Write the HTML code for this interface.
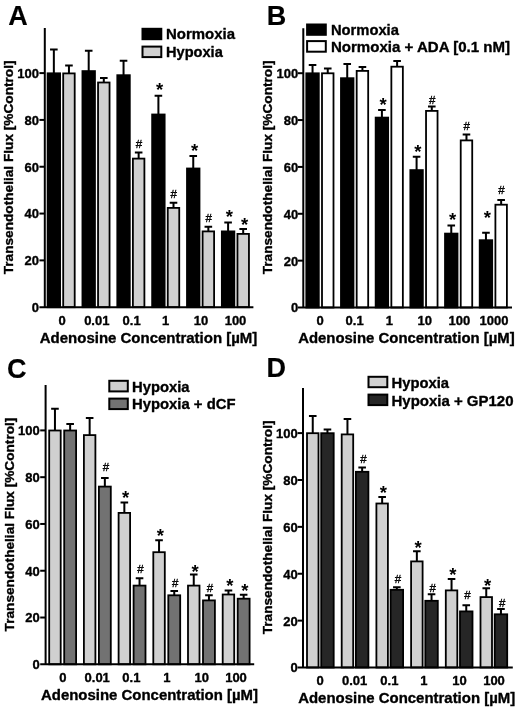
<!DOCTYPE html>
<html><head><meta charset="utf-8"><title>Figure</title>
<style>
html,body{margin:0;padding:0;background:#fff;}
svg{display:block;font-family:"Liberation Sans",sans-serif;fill:#000;}
text[font-weight=bold]{stroke:#000;stroke-width:0.35px;stroke-linejoin:round;}
</style></head>
<body>
<svg width="520" height="707" viewBox="0 0 520 707">
<rect x="0" y="0" width="520" height="707" fill="#fff"/>
<path d="M53.85 73.40V49.50M50.05 49.50H57.65" stroke="#000" stroke-width="2" fill="none"/>
<rect x="47.60" y="73.30" width="12.50" height="233.90" fill="#000" stroke="#000" stroke-width="1.8"/>
<path d="M68.95 73.50V65.50M65.15 65.50H72.75" stroke="#000" stroke-width="2" fill="none"/>
<rect x="63.20" y="73.40" width="11.50" height="233.80" fill="#d0d0d0" stroke="#000" stroke-width="1.8"/>
<path d="M88.70 71.20V50.75M84.90 50.75H92.50" stroke="#000" stroke-width="2" fill="none"/>
<rect x="82.45" y="71.10" width="12.50" height="236.10" fill="#000" stroke="#000" stroke-width="1.8"/>
<path d="M103.80 82.60V78.00M100.00 78.00H107.60" stroke="#000" stroke-width="2" fill="none"/>
<rect x="98.05" y="82.50" width="11.50" height="224.70" fill="#d0d0d0" stroke="#000" stroke-width="1.8"/>
<path d="M123.55 75.30V60.70M119.75 60.70H127.35" stroke="#000" stroke-width="2" fill="none"/>
<rect x="117.30" y="75.20" width="12.50" height="232.00" fill="#000" stroke="#000" stroke-width="1.8"/>
<path d="M138.65 158.70V152.50M134.85 152.50H142.45" stroke="#000" stroke-width="2" fill="none"/>
<rect x="132.90" y="158.60" width="11.50" height="148.60" fill="#d0d0d0" stroke="#000" stroke-width="1.8"/>
<text x="138.95" y="148.00" text-anchor="middle" font-size="11.5" stroke="#000" stroke-width="0.35">#</text>
<path d="M158.40 114.60V95.70M154.60 95.70H162.20" stroke="#000" stroke-width="2" fill="none"/>
<rect x="152.15" y="114.50" width="12.50" height="192.70" fill="#000" stroke="#000" stroke-width="1.8"/>
<text x="159.70" y="95.80" text-anchor="middle" font-size="18.5" font-weight="bold" style="stroke-width:0">*</text>
<path d="M173.50 208.00V202.80M169.70 202.80H177.30" stroke="#000" stroke-width="2" fill="none"/>
<rect x="167.75" y="207.90" width="11.50" height="99.30" fill="#d0d0d0" stroke="#000" stroke-width="1.8"/>
<text x="173.80" y="197.60" text-anchor="middle" font-size="11.5" stroke="#000" stroke-width="0.35">#</text>
<path d="M193.25 168.60V156.00M189.45 156.00H197.05" stroke="#000" stroke-width="2" fill="none"/>
<rect x="187.00" y="168.50" width="12.50" height="138.70" fill="#000" stroke="#000" stroke-width="1.8"/>
<text x="194.55" y="157.30" text-anchor="middle" font-size="18.5" font-weight="bold" style="stroke-width:0">*</text>
<path d="M208.35 231.50V226.70M204.55 226.70H212.15" stroke="#000" stroke-width="2" fill="none"/>
<rect x="202.60" y="231.40" width="11.50" height="75.80" fill="#d0d0d0" stroke="#000" stroke-width="1.8"/>
<text x="208.65" y="221.70" text-anchor="middle" font-size="11.5" stroke="#000" stroke-width="0.35">#</text>
<path d="M228.10 231.50V222.40M224.30 222.40H231.90" stroke="#000" stroke-width="2" fill="none"/>
<rect x="221.85" y="231.40" width="12.50" height="75.80" fill="#000" stroke="#000" stroke-width="1.8"/>
<text x="229.40" y="223.00" text-anchor="middle" font-size="18.5" font-weight="bold" style="stroke-width:0">*</text>
<path d="M243.20 234.00V229.00M239.40 229.00H247.00" stroke="#000" stroke-width="2" fill="none"/>
<rect x="237.45" y="233.90" width="11.50" height="73.30" fill="#d0d0d0" stroke="#000" stroke-width="1.8"/>
<text x="244.50" y="230.80" text-anchor="middle" font-size="18.5" font-weight="bold" style="stroke-width:0">*</text>
<path d="M44.80 28.00V308.20M39.40 307.20H253.40" stroke="#000" stroke-width="2" fill="none"/>
<path d="M39.40 260.38H44.80" stroke="#000" stroke-width="2"/>
<path d="M39.40 213.56H44.80" stroke="#000" stroke-width="2"/>
<path d="M39.40 166.74H44.80" stroke="#000" stroke-width="2"/>
<path d="M39.40 119.92H44.80" stroke="#000" stroke-width="2"/>
<path d="M39.40 73.10H44.80" stroke="#000" stroke-width="2"/>
<text transform="translate(39.00 312.10) scale(1 1.0)" text-anchor="end" font-size="13" font-weight="bold">0</text>
<text transform="translate(39.00 265.28) scale(1 1.0)" text-anchor="end" font-size="13" font-weight="bold">20</text>
<text transform="translate(39.00 218.46) scale(1 1.0)" text-anchor="end" font-size="13" font-weight="bold">40</text>
<text transform="translate(39.00 171.64) scale(1 1.0)" text-anchor="end" font-size="13" font-weight="bold">60</text>
<text transform="translate(39.00 124.82) scale(1 1.0)" text-anchor="end" font-size="13" font-weight="bold">80</text>
<text transform="translate(39.00 78.00) scale(1 1.0)" text-anchor="end" font-size="13" font-weight="bold">100</text>
<text transform="translate(62.00 324.80) scale(1 1.0)" text-anchor="middle" font-size="13" font-weight="bold">0</text>
<text transform="translate(96.80 324.80) scale(1 1.0)" text-anchor="middle" font-size="13" font-weight="bold">0.01</text>
<text transform="translate(131.60 324.80) scale(1 1.0)" text-anchor="middle" font-size="13" font-weight="bold">0.1</text>
<text transform="translate(165.70 324.80) scale(1 1.0)" text-anchor="middle" font-size="13" font-weight="bold">1</text>
<text transform="translate(200.90 324.80) scale(1 1.0)" text-anchor="middle" font-size="13" font-weight="bold">10</text>
<text transform="translate(235.50 324.80) scale(1 1.0)" text-anchor="middle" font-size="13" font-weight="bold">100</text>
<text transform="translate(39.80 342.50) scale(1 1.0)" font-size="15" font-weight="bold" textLength="217.5" lengthAdjust="spacingAndGlyphs">Adenosine Concentration [µM]</text>
<text transform="translate(13.20 274.30) rotate(-90) scale(1 1.0)" font-size="13.4" font-weight="bold" textLength="213.8" lengthAdjust="spacingAndGlyphs">Transendothelial Flux [%Control]</text>
<text transform="translate(8.30 24.80) scale(1 1.0)" font-size="27" font-weight="bold" style="stroke-width:0.15px">A</text>
<rect x="142.50" y="28.80" width="18.80" height="10.40" fill="#000" stroke="#000" stroke-width="2"/>
<text transform="translate(166.00 39.25) scale(1 1.0)" font-size="15" font-weight="bold" textLength="69" lengthAdjust="spacingAndGlyphs">Normoxia</text>
<rect x="142.50" y="46.60" width="18.80" height="10.50" fill="#d0d0d0" stroke="#000" stroke-width="2"/>
<text transform="translate(166.00 57.45) scale(1 1.0)" font-size="15" font-weight="bold" textLength="56.8" lengthAdjust="spacingAndGlyphs">Hypoxia</text>
<path d="M312.55 73.40V65.00M308.75 65.00H316.35" stroke="#000" stroke-width="2" fill="none"/>
<rect x="306.30" y="73.30" width="12.50" height="234.20" fill="#000" stroke="#000" stroke-width="1.8"/>
<path d="M327.75 73.40V68.60M323.95 68.60H331.55" stroke="#000" stroke-width="2" fill="none"/>
<rect x="322.00" y="73.30" width="11.50" height="234.20" fill="#fff" stroke="#000" stroke-width="1.8"/>
<path d="M347.23 78.30V64.00M343.43 64.00H351.03" stroke="#000" stroke-width="2" fill="none"/>
<rect x="340.98" y="78.20" width="12.50" height="229.30" fill="#000" stroke="#000" stroke-width="1.8"/>
<path d="M362.43 71.00V67.00M358.63 67.00H366.23" stroke="#000" stroke-width="2" fill="none"/>
<rect x="356.68" y="70.90" width="11.50" height="236.60" fill="#fff" stroke="#000" stroke-width="1.8"/>
<path d="M381.91 117.70V110.00M378.11 110.00H385.71" stroke="#000" stroke-width="2" fill="none"/>
<rect x="375.66" y="117.60" width="12.50" height="189.90" fill="#000" stroke="#000" stroke-width="1.8"/>
<text x="383.21" y="110.80" text-anchor="middle" font-size="18.5" font-weight="bold" style="stroke-width:0">*</text>
<path d="M397.11 66.80V61.00M393.31 61.00H400.91" stroke="#000" stroke-width="2" fill="none"/>
<rect x="391.36" y="66.70" width="11.50" height="240.80" fill="#fff" stroke="#000" stroke-width="1.8"/>
<path d="M416.59 170.20V156.80M412.79 156.80H420.39" stroke="#000" stroke-width="2" fill="none"/>
<rect x="410.34" y="170.10" width="12.50" height="137.40" fill="#000" stroke="#000" stroke-width="1.8"/>
<text x="417.89" y="158.30" text-anchor="middle" font-size="18.5" font-weight="bold" style="stroke-width:0">*</text>
<path d="M431.79 111.00V106.50M427.99 106.50H435.59" stroke="#000" stroke-width="2" fill="none"/>
<rect x="426.04" y="110.90" width="11.50" height="196.60" fill="#fff" stroke="#000" stroke-width="1.8"/>
<text x="432.09" y="104.10" text-anchor="middle" font-size="11.5" stroke="#000" stroke-width="0.35">#</text>
<path d="M451.27 233.70V225.50M447.47 225.50H455.07" stroke="#000" stroke-width="2" fill="none"/>
<rect x="445.02" y="233.60" width="12.50" height="73.90" fill="#000" stroke="#000" stroke-width="1.8"/>
<text x="452.57" y="225.50" text-anchor="middle" font-size="18.5" font-weight="bold" style="stroke-width:0">*</text>
<path d="M466.47 140.50V134.60M462.67 134.60H470.27" stroke="#000" stroke-width="2" fill="none"/>
<rect x="460.72" y="140.40" width="11.50" height="167.10" fill="#fff" stroke="#000" stroke-width="1.8"/>
<text x="466.77" y="129.70" text-anchor="middle" font-size="11.5" stroke="#000" stroke-width="0.35">#</text>
<path d="M485.95 240.30V232.70M482.15 232.70H489.75" stroke="#000" stroke-width="2" fill="none"/>
<rect x="479.70" y="240.20" width="12.50" height="67.30" fill="#000" stroke="#000" stroke-width="1.8"/>
<text x="487.25" y="224.10" text-anchor="middle" font-size="18.5" font-weight="bold" style="stroke-width:0">*</text>
<path d="M501.15 204.80V200.00M497.35 200.00H504.95" stroke="#000" stroke-width="2" fill="none"/>
<rect x="495.40" y="204.70" width="11.50" height="102.80" fill="#fff" stroke="#000" stroke-width="1.8"/>
<text x="501.45" y="193.80" text-anchor="middle" font-size="11.5" stroke="#000" stroke-width="0.35">#</text>
<path d="M303.30 28.30V308.50M297.90 307.50H512.00" stroke="#000" stroke-width="2" fill="none"/>
<path d="M297.90 260.64H303.30" stroke="#000" stroke-width="2"/>
<path d="M297.90 213.78H303.30" stroke="#000" stroke-width="2"/>
<path d="M297.90 166.92H303.30" stroke="#000" stroke-width="2"/>
<path d="M297.90 120.06H303.30" stroke="#000" stroke-width="2"/>
<path d="M297.90 73.20H303.30" stroke="#000" stroke-width="2"/>
<text transform="translate(298.30 312.40) scale(1 1.0)" text-anchor="end" font-size="13" font-weight="bold">0</text>
<text transform="translate(298.30 265.54) scale(1 1.0)" text-anchor="end" font-size="13" font-weight="bold">20</text>
<text transform="translate(298.30 218.68) scale(1 1.0)" text-anchor="end" font-size="13" font-weight="bold">40</text>
<text transform="translate(298.30 171.82) scale(1 1.0)" text-anchor="end" font-size="13" font-weight="bold">60</text>
<text transform="translate(298.30 124.96) scale(1 1.0)" text-anchor="end" font-size="13" font-weight="bold">80</text>
<text transform="translate(298.30 78.10) scale(1 1.0)" text-anchor="end" font-size="13" font-weight="bold">100</text>
<text transform="translate(320.00 325.10) scale(1 1.0)" text-anchor="middle" font-size="13" font-weight="bold">0</text>
<text transform="translate(354.60 325.10) scale(1 1.0)" text-anchor="middle" font-size="13" font-weight="bold">0.1</text>
<text transform="translate(389.30 325.10) scale(1 1.0)" text-anchor="middle" font-size="13" font-weight="bold">1</text>
<text transform="translate(424.80 325.10) scale(1 1.0)" text-anchor="middle" font-size="13" font-weight="bold">10</text>
<text transform="translate(459.40 325.10) scale(1 1.0)" text-anchor="middle" font-size="13" font-weight="bold">100</text>
<text transform="translate(494.00 325.10) scale(1 1.0)" text-anchor="middle" font-size="13" font-weight="bold">1000</text>
<text transform="translate(298.20 342.80) scale(1 1.0)" font-size="15" font-weight="bold" textLength="216.5" lengthAdjust="spacingAndGlyphs">Adenosine Concentration [µM]</text>
<text transform="translate(272.20 274.30) rotate(-90) scale(1 1.0)" font-size="13.4" font-weight="bold" textLength="213.8" lengthAdjust="spacingAndGlyphs">Transendothelial Flux [%Control]</text>
<text transform="translate(266.80 24.50) scale(1 1.0)" font-size="27" font-weight="bold" style="stroke-width:0.15px">B</text>
<rect x="307.10" y="24.50" width="18.70" height="10.30" fill="#000" stroke="#000" stroke-width="2"/>
<text transform="translate(330.90 35.05) scale(1 1.0)" font-size="15" font-weight="bold" textLength="68" lengthAdjust="spacingAndGlyphs">Normoxia</text>
<rect x="307.10" y="41.10" width="18.70" height="10.60" fill="#fff" stroke="#000" stroke-width="2"/>
<text transform="translate(330.90 51.65) scale(1 1.0)" font-size="15" font-weight="bold" textLength="179.2" lengthAdjust="spacingAndGlyphs">Normoxia + ADA [0.1 nM]</text>
<path d="M54.95 430.60V408.80M51.15 408.80H58.75" stroke="#000" stroke-width="2" fill="none"/>
<rect x="49.20" y="430.50" width="11.50" height="233.80" fill="#d0d0d0" stroke="#000" stroke-width="1.8"/>
<path d="M70.15 430.60V424.00M66.35 424.00H73.95" stroke="#000" stroke-width="2" fill="none"/>
<rect x="64.20" y="430.50" width="11.90" height="233.80" fill="#727272" stroke="#000" stroke-width="1.8"/>
<path d="M89.65 435.20V418.00M85.85 418.00H93.45" stroke="#000" stroke-width="2" fill="none"/>
<rect x="83.90" y="435.10" width="11.50" height="229.20" fill="#d0d0d0" stroke="#000" stroke-width="1.8"/>
<path d="M104.85 486.70V478.00M101.05 478.00H108.65" stroke="#000" stroke-width="2" fill="none"/>
<rect x="98.90" y="486.60" width="11.90" height="177.70" fill="#727272" stroke="#000" stroke-width="1.8"/>
<text x="105.85" y="470.50" text-anchor="middle" font-size="11.5" stroke="#000" stroke-width="0.35">#</text>
<path d="M124.35 513.00V502.60M120.55 502.60H128.15" stroke="#000" stroke-width="2" fill="none"/>
<rect x="118.60" y="512.90" width="11.50" height="151.40" fill="#d0d0d0" stroke="#000" stroke-width="1.8"/>
<text x="125.65" y="504.30" text-anchor="middle" font-size="18.5" font-weight="bold" style="stroke-width:0">*</text>
<path d="M139.55 585.70V578.30M135.75 578.30H143.35" stroke="#000" stroke-width="2" fill="none"/>
<rect x="133.60" y="585.60" width="11.90" height="78.70" fill="#727272" stroke="#000" stroke-width="1.8"/>
<text x="140.55" y="573.10" text-anchor="middle" font-size="11.5" stroke="#000" stroke-width="0.35">#</text>
<path d="M159.05 552.30V540.30M155.25 540.30H162.85" stroke="#000" stroke-width="2" fill="none"/>
<rect x="153.30" y="552.20" width="11.50" height="112.10" fill="#d0d0d0" stroke="#000" stroke-width="1.8"/>
<text x="160.35" y="541.50" text-anchor="middle" font-size="18.5" font-weight="bold" style="stroke-width:0">*</text>
<path d="M174.25 595.40V591.00M170.45 591.00H178.05" stroke="#000" stroke-width="2" fill="none"/>
<rect x="168.30" y="595.30" width="11.90" height="69.00" fill="#727272" stroke="#000" stroke-width="1.8"/>
<text x="175.25" y="587.10" text-anchor="middle" font-size="11.5" stroke="#000" stroke-width="0.35">#</text>
<path d="M193.75 585.70V574.50M189.95 574.50H197.55" stroke="#000" stroke-width="2" fill="none"/>
<rect x="188.00" y="585.60" width="11.50" height="78.70" fill="#d0d0d0" stroke="#000" stroke-width="1.8"/>
<text x="195.05" y="577.50" text-anchor="middle" font-size="18.5" font-weight="bold" style="stroke-width:0">*</text>
<path d="M208.95 600.50V595.20M205.15 595.20H212.75" stroke="#000" stroke-width="2" fill="none"/>
<rect x="203.00" y="600.40" width="11.90" height="63.90" fill="#727272" stroke="#000" stroke-width="1.8"/>
<text x="209.95" y="592.10" text-anchor="middle" font-size="11.5" stroke="#000" stroke-width="0.35">#</text>
<path d="M228.45 594.60V590.60M224.65 590.60H232.25" stroke="#000" stroke-width="2" fill="none"/>
<rect x="222.70" y="594.50" width="11.50" height="69.80" fill="#d0d0d0" stroke="#000" stroke-width="1.8"/>
<text x="229.75" y="592.30" text-anchor="middle" font-size="18.5" font-weight="bold" style="stroke-width:0">*</text>
<path d="M243.65 598.80V594.80M239.85 594.80H247.45" stroke="#000" stroke-width="2" fill="none"/>
<rect x="237.70" y="598.70" width="11.90" height="65.60" fill="#727272" stroke="#000" stroke-width="1.8"/>
<text x="244.95" y="597.30" text-anchor="middle" font-size="18.5" font-weight="bold" style="stroke-width:0">*</text>
<path d="M45.60 385.00V665.30M40.20 664.30H254.20" stroke="#000" stroke-width="2" fill="none"/>
<path d="M40.20 617.52H45.60" stroke="#000" stroke-width="2"/>
<path d="M40.20 570.74H45.60" stroke="#000" stroke-width="2"/>
<path d="M40.20 523.96H45.60" stroke="#000" stroke-width="2"/>
<path d="M40.20 477.18H45.60" stroke="#000" stroke-width="2"/>
<path d="M40.20 430.40H45.60" stroke="#000" stroke-width="2"/>
<text transform="translate(39.80 669.20) scale(1 1.0)" text-anchor="end" font-size="13" font-weight="bold">0</text>
<text transform="translate(39.80 622.42) scale(1 1.0)" text-anchor="end" font-size="13" font-weight="bold">20</text>
<text transform="translate(39.80 575.64) scale(1 1.0)" text-anchor="end" font-size="13" font-weight="bold">40</text>
<text transform="translate(39.80 528.86) scale(1 1.0)" text-anchor="end" font-size="13" font-weight="bold">60</text>
<text transform="translate(39.80 482.08) scale(1 1.0)" text-anchor="end" font-size="13" font-weight="bold">80</text>
<text transform="translate(39.80 435.30) scale(1 1.0)" text-anchor="end" font-size="13" font-weight="bold">100</text>
<text transform="translate(62.90 681.90) scale(1 1.0)" text-anchor="middle" font-size="13" font-weight="bold">0</text>
<text transform="translate(97.20 681.90) scale(1 1.0)" text-anchor="middle" font-size="13" font-weight="bold">0.01</text>
<text transform="translate(131.40 681.90) scale(1 1.0)" text-anchor="middle" font-size="13" font-weight="bold">0.1</text>
<text transform="translate(166.80 681.90) scale(1 1.0)" text-anchor="middle" font-size="13" font-weight="bold">1</text>
<text transform="translate(201.70 681.90) scale(1 1.0)" text-anchor="middle" font-size="13" font-weight="bold">10</text>
<text transform="translate(236.00 681.90) scale(1 1.0)" text-anchor="middle" font-size="13" font-weight="bold">100</text>
<text transform="translate(41.00 699.60) scale(1 1.0)" font-size="15" font-weight="bold" textLength="217" lengthAdjust="spacingAndGlyphs">Adenosine Concentration [µM]</text>
<text transform="translate(14.35 631.40) rotate(-90) scale(1 1.0)" font-size="13.4" font-weight="bold" textLength="213.8" lengthAdjust="spacingAndGlyphs">Transendothelial Flux [%Control]</text>
<text transform="translate(6.90 377.50) scale(1 1.0)" font-size="27" font-weight="bold" style="stroke-width:0.15px">C</text>
<rect x="109.30" y="380.80" width="18.50" height="10.60" fill="#d0d0d0" stroke="#000" stroke-width="2"/>
<text transform="translate(132.00 391.65) scale(1 1.0)" font-size="15" font-weight="bold" textLength="57.5" lengthAdjust="spacingAndGlyphs">Hypoxia</text>
<rect x="109.30" y="398.60" width="18.50" height="10.50" fill="#727272" stroke="#000" stroke-width="2"/>
<text transform="translate(132.00 409.45) scale(1 1.0)" font-size="15" font-weight="bold" textLength="103.5" lengthAdjust="spacingAndGlyphs">Hypoxia + dCF</text>
<path d="M312.75 433.30V416.00M308.95 416.00H316.55" stroke="#000" stroke-width="2" fill="none"/>
<rect x="307.00" y="433.20" width="11.50" height="234.30" fill="#d0d0d0" stroke="#000" stroke-width="1.8"/>
<path d="M327.45 433.30V429.60M323.65 429.60H331.25" stroke="#000" stroke-width="2" fill="none"/>
<rect x="321.20" y="433.20" width="12.50" height="234.30" fill="#262626" stroke="#000" stroke-width="1.8"/>
<path d="M347.45 434.50V419.00M343.65 419.00H351.25" stroke="#000" stroke-width="2" fill="none"/>
<rect x="341.70" y="434.40" width="11.50" height="233.10" fill="#d0d0d0" stroke="#000" stroke-width="1.8"/>
<path d="M362.15 471.90V467.40M358.35 467.40H365.95" stroke="#000" stroke-width="2" fill="none"/>
<rect x="355.90" y="471.80" width="12.50" height="195.70" fill="#262626" stroke="#000" stroke-width="1.8"/>
<text x="363.35" y="463.30" text-anchor="middle" font-size="11.5" stroke="#000" stroke-width="0.35">#</text>
<path d="M382.15 503.60V497.00M378.35 497.00H385.95" stroke="#000" stroke-width="2" fill="none"/>
<rect x="376.40" y="503.50" width="11.50" height="164.00" fill="#d0d0d0" stroke="#000" stroke-width="1.8"/>
<text x="383.45" y="499.30" text-anchor="middle" font-size="18.5" font-weight="bold" style="stroke-width:0">*</text>
<path d="M396.85 589.90V587.20M393.05 587.20H400.65" stroke="#000" stroke-width="2" fill="none"/>
<rect x="390.60" y="589.80" width="12.50" height="77.70" fill="#262626" stroke="#000" stroke-width="1.8"/>
<text x="398.05" y="582.60" text-anchor="middle" font-size="11.5" stroke="#000" stroke-width="0.35">#</text>
<path d="M416.85 561.50V551.20M413.05 551.20H420.65" stroke="#000" stroke-width="2" fill="none"/>
<rect x="411.10" y="561.40" width="11.50" height="106.10" fill="#d0d0d0" stroke="#000" stroke-width="1.8"/>
<text x="418.15" y="554.30" text-anchor="middle" font-size="18.5" font-weight="bold" style="stroke-width:0">*</text>
<path d="M431.55 600.90V594.20M427.75 594.20H435.35" stroke="#000" stroke-width="2" fill="none"/>
<rect x="425.30" y="600.80" width="12.50" height="66.70" fill="#262626" stroke="#000" stroke-width="1.8"/>
<text x="432.75" y="592.10" text-anchor="middle" font-size="11.5" stroke="#000" stroke-width="0.35">#</text>
<path d="M451.55 590.50V579.00M447.75 579.00H455.35" stroke="#000" stroke-width="2" fill="none"/>
<rect x="445.80" y="590.40" width="11.50" height="77.10" fill="#d0d0d0" stroke="#000" stroke-width="1.8"/>
<text x="452.85" y="581.30" text-anchor="middle" font-size="18.5" font-weight="bold" style="stroke-width:0">*</text>
<path d="M466.25 611.50V605.30M462.45 605.30H470.05" stroke="#000" stroke-width="2" fill="none"/>
<rect x="460.00" y="611.40" width="12.50" height="56.10" fill="#262626" stroke="#000" stroke-width="1.8"/>
<text x="467.45" y="599.10" text-anchor="middle" font-size="11.5" stroke="#000" stroke-width="0.35">#</text>
<path d="M486.25 597.20V588.20M482.45 588.20H490.05" stroke="#000" stroke-width="2" fill="none"/>
<rect x="480.50" y="597.10" width="11.50" height="70.40" fill="#d0d0d0" stroke="#000" stroke-width="1.8"/>
<text x="487.55" y="591.80" text-anchor="middle" font-size="18.5" font-weight="bold" style="stroke-width:0">*</text>
<path d="M500.95 614.40V609.00M497.15 609.00H504.75" stroke="#000" stroke-width="2" fill="none"/>
<rect x="494.70" y="614.30" width="12.50" height="53.20" fill="#262626" stroke="#000" stroke-width="1.8"/>
<text x="502.15" y="607.10" text-anchor="middle" font-size="11.5" stroke="#000" stroke-width="0.35">#</text>
<path d="M303.00 388.00V668.50M297.60 667.50H512.80" stroke="#000" stroke-width="2" fill="none"/>
<path d="M297.60 620.62H303.00" stroke="#000" stroke-width="2"/>
<path d="M297.60 573.74H303.00" stroke="#000" stroke-width="2"/>
<path d="M297.60 526.86H303.00" stroke="#000" stroke-width="2"/>
<path d="M297.60 479.98H303.00" stroke="#000" stroke-width="2"/>
<path d="M297.60 433.10H303.00" stroke="#000" stroke-width="2"/>
<text transform="translate(297.80 672.40) scale(1 1.0)" text-anchor="end" font-size="13" font-weight="bold">0</text>
<text transform="translate(297.80 625.52) scale(1 1.0)" text-anchor="end" font-size="13" font-weight="bold">20</text>
<text transform="translate(297.80 578.64) scale(1 1.0)" text-anchor="end" font-size="13" font-weight="bold">40</text>
<text transform="translate(297.80 531.76) scale(1 1.0)" text-anchor="end" font-size="13" font-weight="bold">60</text>
<text transform="translate(297.80 484.88) scale(1 1.0)" text-anchor="end" font-size="13" font-weight="bold">80</text>
<text transform="translate(297.80 438.00) scale(1 1.0)" text-anchor="end" font-size="13" font-weight="bold">100</text>
<text transform="translate(320.00 684.50) scale(1 1.0)" text-anchor="middle" font-size="13" font-weight="bold">0</text>
<text transform="translate(354.60 684.50) scale(1 1.0)" text-anchor="middle" font-size="13" font-weight="bold">0.01</text>
<text transform="translate(389.40 684.50) scale(1 1.0)" text-anchor="middle" font-size="13" font-weight="bold">0.1</text>
<text transform="translate(423.90 684.50) scale(1 1.0)" text-anchor="middle" font-size="13" font-weight="bold">1</text>
<text transform="translate(459.60 684.50) scale(1 1.0)" text-anchor="middle" font-size="13" font-weight="bold">10</text>
<text transform="translate(494.00 684.50) scale(1 1.0)" text-anchor="middle" font-size="13" font-weight="bold">100</text>
<text transform="translate(298.20 702.80) scale(1 1.0)" font-size="15" font-weight="bold" textLength="217" lengthAdjust="spacingAndGlyphs">Adenosine Concentration [µM]</text>
<text transform="translate(271.60 634.30) rotate(-90) scale(1 1.0)" font-size="13.4" font-weight="bold" textLength="213.8" lengthAdjust="spacingAndGlyphs">Transendothelial Flux [%Control]</text>
<text transform="translate(266.60 377.00) scale(1 1.0)" font-size="27" font-weight="bold" style="stroke-width:0.15px">D</text>
<rect x="368.50" y="376.80" width="18.80" height="10.40" fill="#d0d0d0" stroke="#000" stroke-width="2"/>
<text transform="translate(391.50 387.60) scale(1 1.0)" font-size="15" font-weight="bold" textLength="57.5" lengthAdjust="spacingAndGlyphs">Hypoxia</text>
<rect x="368.50" y="394.60" width="18.80" height="10.50" fill="#262626" stroke="#000" stroke-width="2"/>
<text transform="translate(391.50 405.80) scale(1 1.0)" font-size="15" font-weight="bold" textLength="122" lengthAdjust="spacingAndGlyphs">Hypoxia + GP120</text>
</svg>
</body></html>
